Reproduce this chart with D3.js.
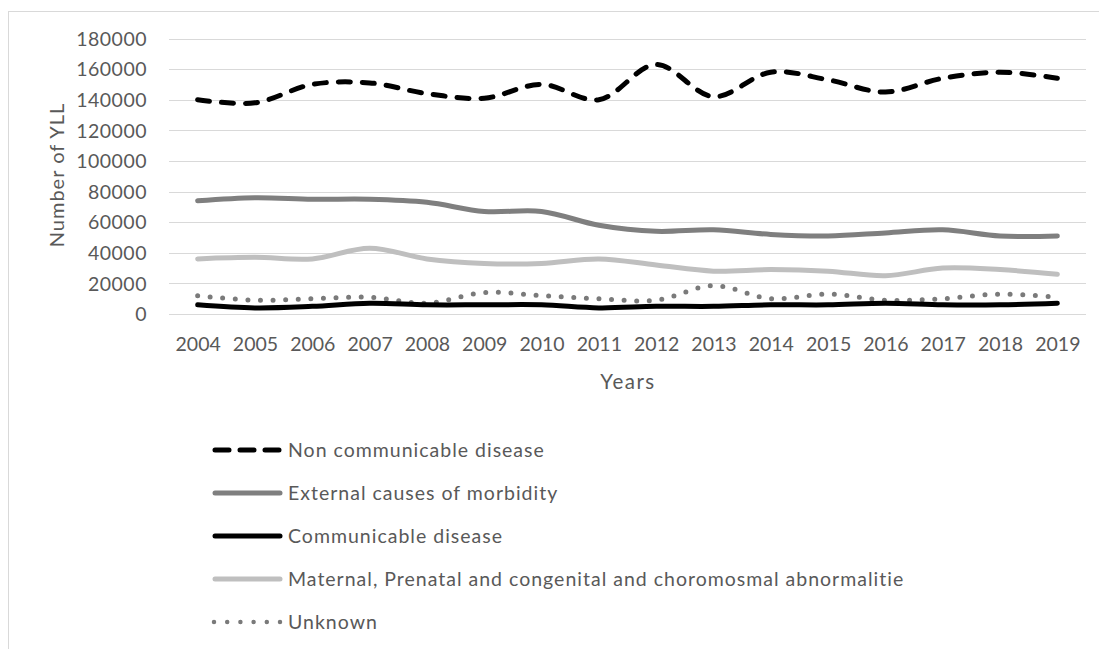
<!DOCTYPE html>
<html>
<head>
<meta charset="utf-8">
<script src="https://cdn.jsdelivr.net/npm/d3@7"></script>
<style>
  html, body { margin: 0; padding: 0; background: #fff; }
  svg { display: block; }
  text { font-family: Lato, "Open Sans", sans-serif; fill: #595959; }
</style>
</head>
<body>
<svg id="chart" width="1099" height="649"></svg>
<script>
// Years of life lost by cause group, 2004–2019
const years = ["2004","2005","2006","2007","2008","2009","2010","2011","2012","2013","2014","2015","2016","2017","2018","2019"];
const yTicks = [0, 20000, 40000, 60000, 80000, 100000, 120000, 140000, 160000, 180000];

const nonCommunicable = [140000,138000,150000,151000,144000,141000,150000,140000,163000,142000,158000,153000,145000,154000,158000,154000];
const externalCauses  = [74000,76000,75000,75000,73000,67000,67000,58000,54000,55000,52000,51000,53000,55000,51000,51000];
const communicable    = [6000,4000,5000,7000,6000,6000,6000,4000,5000,5000,6000,6000,7000,6000,6000,7000];
const maternal        = [36000,37000,36000,43000,36000,33000,33000,36000,32000,28000,29000,28000,25000,30000,29000,26000];
const unknown         = [12000,9000,10000,11000,7000,14000,12000,10000,9000,18500,10000,13000,9000,10000,13000,11000];

const seriesNames = [
  "Non communicable disease",
  "External causes of morbidity",
  "Communicable disease",
  "Maternal, Prenatal and congenital and choromosmal abnormalitie",
  "Unknown"
];

const styles = [
  { color: "#000000", width: 5,   dash: "12,12" },
  { color: "#7f7f7f", width: 5,   dash: null },
  { color: "#000000", width: 5,   dash: null },
  { color: "#bfbfbf", width: 5,   dash: null },
  { color: "#7a7a7a", width: 5,   dash: "0,12.6" }
];

const seriesValues = [nonCommunicable, externalCauses, communicable, maternal, unknown];

const svg = d3.select("#chart");

// outer chart frame
svg.append("rect")
  .attr("x", 8.5).attr("y", 11.5)
  .attr("width", 1200).attr("height", 700)
  .attr("fill", "none").attr("stroke", "#d9d9d9").attr("stroke-width", 1);

const plot = { left: 169, right: 1086, top: 38.5, bottom: 314 };

const x = d3.scalePoint().domain(years).range([plot.left, plot.right]).padding(0.5);
const y = d3.scaleLinear().domain([0, 180000]).range([plot.bottom, plot.top]);

// horizontal gridlines
svg.append("g")
  .selectAll("line")
  .data(yTicks)
  .join("line")
  .attr("x1", plot.left).attr("x2", plot.right)
  .attr("y1", d => Math.round(y(d)) + 0.5).attr("y2", d => Math.round(y(d)) + 0.5)
  .attr("stroke", "#d9d9d9").attr("stroke-width", 1);

// y axis labels
const yAxis = d3.axisLeft(y).tickValues(yTicks).tickSize(0).tickPadding(0).tickFormat(d3.format("d"));
const gy = svg.append("g").attr("transform", `translate(147,0)`).call(yAxis);
gy.select(".domain").remove();
gy.selectAll("text")
  .style("font-size", "19.5px")
  .style("letter-spacing", "0.5px")
  .attr("fill", "#595959").attr("dy", "0.35em");

// x axis labels
const xAxis = d3.axisBottom(x).tickSize(0).tickPadding(0);
const gx = svg.append("g").attr("transform", `translate(0,337)`).call(xAxis);
gx.select(".domain").remove();
gx.selectAll("text").style("font-size", "19.5px").attr("fill", "#595959").attr("dy", "0.72em");

// axis titles
svg.append("text")
  .attr("transform", "translate(64,175) rotate(-90)")
  .attr("text-anchor", "middle")
  .style("font-size", "20px")
  .style("letter-spacing", "1px")
  .text("Number of YLL");

svg.append("text")
  .attr("x", 628).attr("y", 389)
  .attr("text-anchor", "middle")
  .style("font-size", "20.5px")
  .style("letter-spacing", "1.5px")
  .text("Years");

// series lines
const line = d3.line()
  .x((d, i) => x(years[i]))
  .y(d => y(d))
  .curve(d3.curveCatmullRom.alpha(0.5));

// lighter series first so the black lines sit on top
const drawOrder = [3, 1, 4, 2, 0];
svg.append("g")
  .selectAll("path")
  .data(drawOrder)
  .join("path")
  .attr("d", k => line(seriesValues[k]))
  .attr("fill", "none")
  .attr("stroke", k => styles[k].color)
  .attr("stroke-width", k => styles[k].width)
  .attr("stroke-linecap", "round")
  .attr("stroke-linejoin", "round")
  .attr("stroke-dasharray", k => styles[k].dash);

// legend
const legend = svg.append("g");
const rows = legend.selectAll("g")
  .data(seriesNames)
  .join("g")
  .attr("transform", (d, i) => `translate(0,${450 + i * 43})`);

rows.append("line")
  .attr("x1", (d, i) => i === 4 ? 214 : 215).attr("x2", (d, i) => i === 4 ? 281 : 280)
  .attr("y1", 0).attr("y2", 0)
  .attr("stroke", (d, i) => styles[i].color)
  .attr("stroke-width", (d, i) => i === 4 ? 4.5 : styles[i].width)
  .attr("stroke-linecap", "round")
  .attr("stroke-dasharray", (d, i) => i === 0 ? "14,11" : (i === 4 ? "0,13.2" : null));

rows.append("text")
  .attr("x", 288).attr("y", 0).attr("dy", "0.35em")
  .style("font-size", "19.5px")
  .style("letter-spacing", "1px")
  .text(d => d);
</script>
</body>
</html>
